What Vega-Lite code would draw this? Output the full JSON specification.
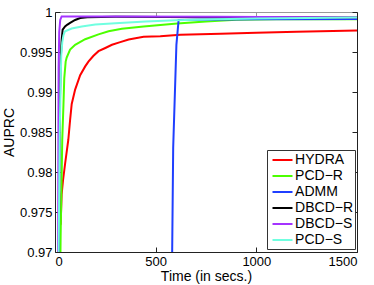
{
  "$schema": "https://vega.github.io/schema/vega-lite/v6.json",
  "width": 302,
  "height": 240,
  "autosize": {"type": "none"},
  "padding": {"left": 55, "top": 12, "right": 17, "bottom": 33},
  "config": {
    "view": {"stroke": null},
    "font": "Liberation Sans",
    "axis": {
      "grid": false,
      "domainColor": "#222222",
      "domainWidth": 1,
      "tickColor": "#222222",
      "tickSize": -5,
      "labelFont": "Liberation Sans",
      "labelFontSize": 13,
      "labelColor": "#000000",
      "titleFont": "Liberation Sans",
      "titleFontSize": 14,
      "titleFontWeight": "normal",
      "titleColor": "#000000"
    }
  },
  "data": {
    "values": [
      {"s": "HYDRA", "t": 28, "v": 0.9734},
      {"s": "HYDRA", "t": 33, "v": 0.9772},
      {"s": "HYDRA", "t": 40, "v": 0.9790},
      {"s": "HYDRA", "t": 50, "v": 0.9810},
      {"s": "HYDRA", "t": 66, "v": 0.9840},
      {"s": "HYDRA", "t": 75, "v": 0.9865},
      {"s": "HYDRA", "t": 83, "v": 0.9885},
      {"s": "HYDRA", "t": 100, "v": 0.9903},
      {"s": "HYDRA", "t": 125, "v": 0.9921},
      {"s": "HYDRA", "t": 150, "v": 0.9932},
      {"s": "HYDRA", "t": 166, "v": 0.9938},
      {"s": "HYDRA", "t": 190, "v": 0.9945},
      {"s": "HYDRA", "t": 216, "v": 0.9951},
      {"s": "HYDRA", "t": 250, "v": 0.9955},
      {"s": "HYDRA", "t": 283, "v": 0.9959},
      {"s": "HYDRA", "t": 320, "v": 0.9962},
      {"s": "HYDRA", "t": 366, "v": 0.99656},
      {"s": "HYDRA", "t": 440, "v": 0.9969},
      {"s": "HYDRA", "t": 523, "v": 0.99698},
      {"s": "HYDRA", "t": 623, "v": 0.99715},
      {"s": "HYDRA", "t": 823, "v": 0.99728},
      {"s": "HYDRA", "t": 1000, "v": 0.9974},
      {"s": "HYDRA", "t": 1200, "v": 0.99752},
      {"s": "HYDRA", "t": 1500, "v": 0.99769},
      {"s": "PCD−R", "t": 25, "v": 0.9650},
      {"s": "PCD−R", "t": 28, "v": 0.9720},
      {"s": "PCD−R", "t": 32, "v": 0.9780},
      {"s": "PCD−R", "t": 36, "v": 0.9840},
      {"s": "PCD−R", "t": 42, "v": 0.9884},
      {"s": "PCD−R", "t": 46, "v": 0.9917},
      {"s": "PCD−R", "t": 53, "v": 0.9938},
      {"s": "PCD−R", "t": 58, "v": 0.9943},
      {"s": "PCD−R", "t": 75, "v": 0.9953},
      {"s": "PCD−R", "t": 100, "v": 0.9959},
      {"s": "PCD−R", "t": 150, "v": 0.9966},
      {"s": "PCD−R", "t": 216, "v": 0.9972},
      {"s": "PCD−R", "t": 266, "v": 0.9976},
      {"s": "PCD−R", "t": 332, "v": 0.9979},
      {"s": "PCD−R", "t": 440, "v": 0.9982},
      {"s": "PCD−R", "t": 607, "v": 0.99856},
      {"s": "PCD−R", "t": 750, "v": 0.9988},
      {"s": "PCD−R", "t": 900, "v": 0.99903},
      {"s": "PCD−R", "t": 1100, "v": 0.9991},
      {"s": "PCD−R", "t": 1500, "v": 0.9991},
      {"s": "ADMM", "t": 578, "v": 0.9650},
      {"s": "ADMM", "t": 582, "v": 0.9700},
      {"s": "ADMM", "t": 587, "v": 0.9830},
      {"s": "ADMM", "t": 603, "v": 0.9959},
      {"s": "ADMM", "t": 614, "v": 0.9990},
      {"s": "ADMM", "t": 700, "v": 0.99903},
      {"s": "ADMM", "t": 1000, "v": 0.9991},
      {"s": "ADMM", "t": 1500, "v": 0.99912},
      {"s": "DBCD−R", "t": 18, "v": 0.9650},
      {"s": "DBCD−R", "t": 22, "v": 0.9820},
      {"s": "DBCD−R", "t": 25, "v": 0.9895},
      {"s": "DBCD−R", "t": 28, "v": 0.9938},
      {"s": "DBCD−R", "t": 33, "v": 0.9965},
      {"s": "DBCD−R", "t": 38, "v": 0.9978},
      {"s": "DBCD−R", "t": 50, "v": 0.9982},
      {"s": "DBCD−R", "t": 60, "v": 0.9984},
      {"s": "DBCD−R", "t": 75, "v": 0.99865},
      {"s": "DBCD−R", "t": 100, "v": 0.9990},
      {"s": "DBCD−R", "t": 125, "v": 0.99925},
      {"s": "DBCD−R", "t": 160, "v": 0.99935},
      {"s": "DBCD−R", "t": 300, "v": 0.9994},
      {"s": "DBCD−R", "t": 800, "v": 0.99935},
      {"s": "DBCD−R", "t": 1500, "v": 0.9993},
      {"s": "DBCD−S", "t": 15, "v": 0.9650},
      {"s": "DBCD−S", "t": 16, "v": 0.9750},
      {"s": "DBCD−S", "t": 17, "v": 0.9850},
      {"s": "DBCD−S", "t": 18, "v": 0.9930},
      {"s": "DBCD−S", "t": 21, "v": 0.9975},
      {"s": "DBCD−S", "t": 26, "v": 0.9990},
      {"s": "DBCD−S", "t": 33, "v": 0.99945},
      {"s": "DBCD−S", "t": 300, "v": 0.99945},
      {"s": "DBCD−S", "t": 800, "v": 0.9994},
      {"s": "DBCD−S", "t": 1500, "v": 0.9993},
      {"s": "PCD−S", "t": 17, "v": 0.9650},
      {"s": "PCD−S", "t": 20, "v": 0.9750},
      {"s": "PCD−S", "t": 23, "v": 0.9840},
      {"s": "PCD−S", "t": 27, "v": 0.9900},
      {"s": "PCD−S", "t": 31, "v": 0.9945},
      {"s": "PCD−S", "t": 36, "v": 0.9962},
      {"s": "PCD−S", "t": 42, "v": 0.9971},
      {"s": "PCD−S", "t": 50, "v": 0.9976},
      {"s": "PCD−S", "t": 83, "v": 0.99794},
      {"s": "PCD−S", "t": 133, "v": 0.9982},
      {"s": "PCD−S", "t": 200, "v": 0.99844},
      {"s": "PCD−S", "t": 300, "v": 0.9986},
      {"s": "PCD−S", "t": 450, "v": 0.9988},
      {"s": "PCD−S", "t": 600, "v": 0.99898},
      {"s": "PCD−S", "t": 800, "v": 0.9991},
      {"s": "PCD−S", "t": 1000, "v": 0.9992},
      {"s": "PCD−S", "t": 1500, "v": 0.99932}
    ]
  },
  "resolve": {"axis": {"x": "independent", "y": "independent"}},
  "layer": [
    {
      "mark": {"type": "line", "strokeWidth": 2, "clip": true},
      "encoding": {
        "x": {
          "field": "t", "type": "quantitative",
          "scale": {"domain": [0, 1500], "nice": false, "zero": false},
          "axis": {"orient": "bottom", "values": [0, 500, 1000, 1500], "format": "d", "title": "Time (in secs.)", "labelPadding": 8, "titlePadding": 1}
        },
        "y": {
          "field": "v", "type": "quantitative",
          "scale": {"domain": [0.97, 1], "nice": false, "zero": false},
          "axis": {"orient": "left", "values": [0.97, 0.975, 0.98, 0.985, 0.99, 0.995, 1], "format": "~g", "title": "AUPRC", "labelPadding": 8, "titlePadding": 3}
        },
        "color": {
          "field": "s", "type": "nominal",
          "scale": {
            "domain": ["HYDRA", "PCD−R", "ADMM", "DBCD−R", "DBCD−S", "PCD−S"],
            "range": ["#ff0000", "#4cff00", "#1f3fff", "#000000", "#a433ff", "#70ffe0"]
          },
          "legend": {
            "title": null,
            "orient": "none",
            "legendX": 212,
            "legendY": 138,
            "symbolType": "M-0.6,0H2.067",
            "symbolSize": 225,
            "symbolStrokeWidth": 2,
            "labelFont": "Liberation Sans",
            "labelFontSize": 14,
            "labelColor": "#000000",
            "labelOffset": 9.6,
            "rowPadding": 0,
            "padding": 1.5,
            "strokeColor": "#333333",
            "fillColor": "#ffffff"
          }
        }
      }
    },
    {
      "mark": {"type": "line", "opacity": 0},
      "encoding": {
        "x": {
          "field": "t", "type": "quantitative",
          "axis": {"orient": "top", "values": [0, 500, 1000, 1500], "labels": false, "title": null, "domainColor": "#999999", "tickColor": "#999999"}
        },
        "y": {
          "field": "v", "type": "quantitative",
          "axis": {"orient": "right", "values": [0.97, 0.975, 0.98, 0.985, 0.99, 0.995, 1], "labels": false, "title": null}
        },
        "detail": {"field": "s"}
      }
    }
  ]
}
